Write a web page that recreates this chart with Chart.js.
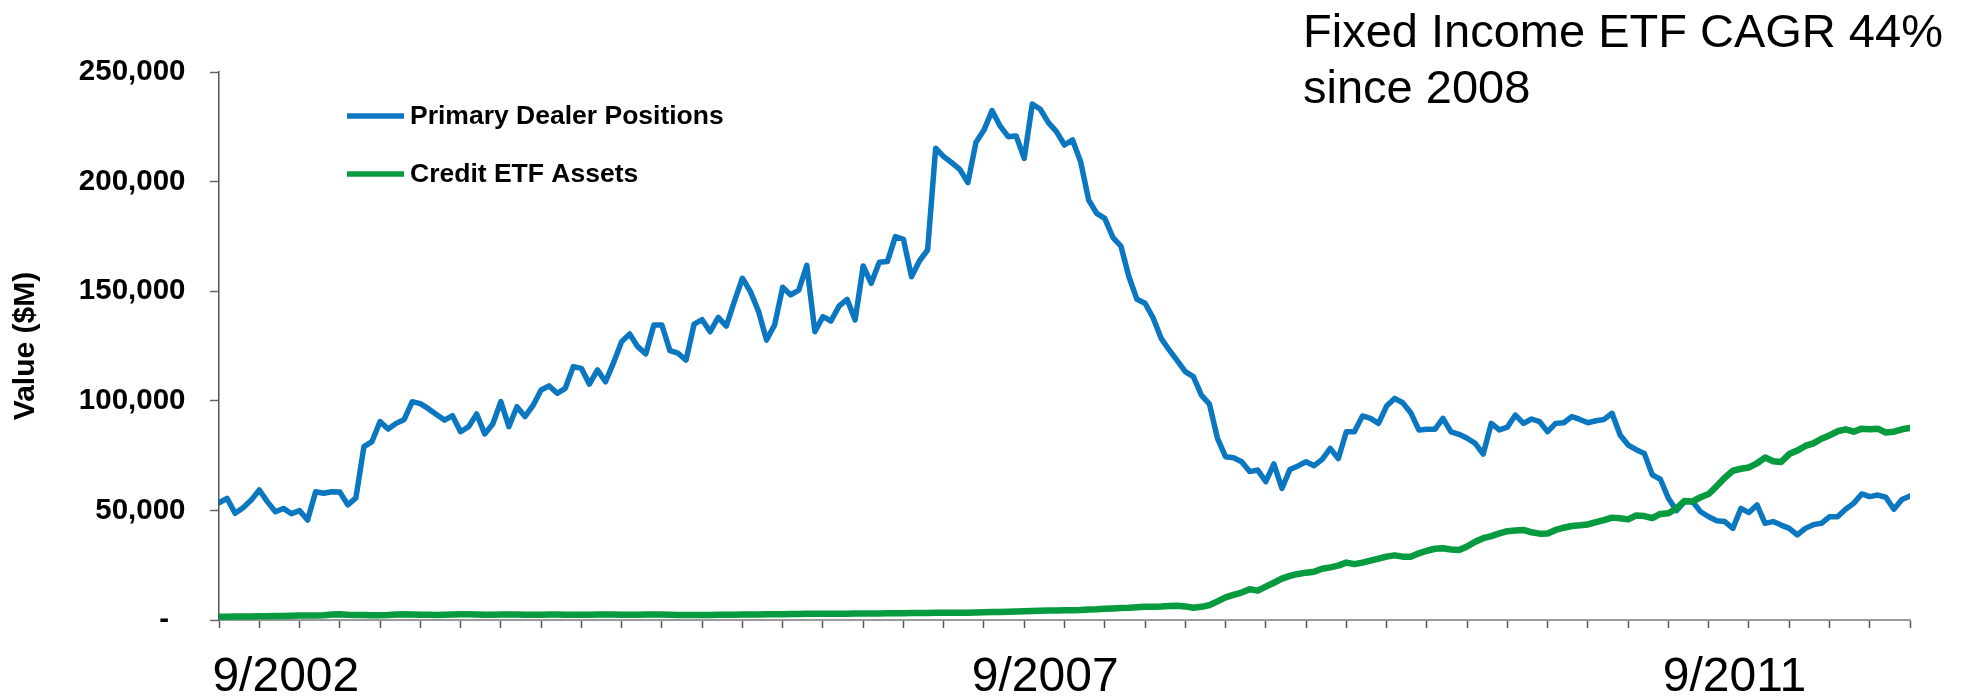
<!DOCTYPE html>
<html>
<head>
<meta charset="utf-8">
<script src="https://cdn.jsdelivr.net/npm/chart.js@4.4.1/dist/chart.umd.min.js"></script>
<style>
  html, body { margin: 0; padding: 0; background: #fff; overflow: hidden; }
  #wrap { width: 1979px; height: 698px; position: relative; }
</style>
</head>
<body>
<div id="wrap"><canvas id="chart"></canvas></div>
<script>
// Primary dealer corporate bond positions ($M), one value per sampling step
const dealerPositions = [
  53500, 55500, 48700, 51200, 54700, 59300, 54000, 49400, 50900, 48500,
  49900, 45600, 58500, 57800, 58500, 58400, 52500, 55700, 79100, 81400,
  90500, 87100, 89700, 91500, 99600, 98700, 96400, 93800, 91200, 93200,
  85900, 88200, 94000, 84900, 89400, 99600, 88200, 97300, 92800, 97900,
  104900, 106800, 103400, 105700, 115600, 114800, 107600, 114100, 108700, 117400,
  127000, 130500, 124700, 121400, 134600, 134600, 122900, 121700, 118600, 135000,
  137000, 131500, 138100, 134100, 145400, 155900, 149800, 140800, 127700, 134600,
  151800, 148300, 150500, 161800, 131500, 138400, 136400, 143200, 146300, 136900,
  161500, 153600, 163200, 163500, 174900, 173700, 156600, 163900, 168800, 215200,
  211400, 208600, 205600, 199500, 217800, 223500, 232400, 225400, 220500, 220800,
  210600, 235400, 233000, 226900, 222800, 216700, 219000, 209100, 191600, 185500,
  183200, 174600, 170600, 156600, 146300, 144500, 137900, 128500, 123200, 118300,
  113300, 111000, 102600, 98500, 82900, 74500, 74000, 72200, 67700, 68400,
  63100, 71200, 60000, 68700, 70300, 72200, 70400, 73300, 78300, 73600,
  85900, 85900, 93100, 92000, 89700, 97600, 101100, 99100, 94600, 86700,
  87000, 87000, 92000, 85800, 84700, 82900, 80600, 75700, 89700, 86700,
  88000, 93500, 89700, 91700, 90500, 85900, 89700, 90000, 92800, 91500,
  90000, 90900, 91500, 94300, 84400, 79800, 77700, 76000, 66200, 64200,
  55500, 49900, 54000, 54000, 49400, 47100, 45300, 44900, 41800, 50900,
  49000, 52500, 44100, 44900, 43300, 41800, 38800, 41800, 43500, 44100,
  47100, 47100, 50500, 53200, 57500, 56300, 57000, 56000, 50500, 55000,
  56600
];

// Credit ETF assets ($M), same sampling steps
const creditEtfAssets = [
  1500, 1500, 1600, 1600, 1600, 1700, 1700, 1800, 1800, 1900,
  2000, 2000, 2100, 2200, 2500, 2600, 2400, 2300, 2300, 2200,
  2200, 2300, 2500, 2600, 2500, 2400, 2400, 2300, 2400, 2500,
  2600, 2600, 2500, 2400, 2400, 2500, 2500, 2500, 2400, 2400,
  2400, 2500, 2500, 2400, 2400, 2400, 2400, 2500, 2500, 2500,
  2400, 2400, 2400, 2500, 2500, 2500, 2400, 2300, 2300, 2300,
  2300, 2300, 2400, 2400, 2400, 2500, 2500, 2500, 2600, 2600,
  2600, 2700, 2700, 2800, 2800, 2800, 2900, 2900, 2900, 3000,
  3000, 3000, 3000, 3100, 3100, 3100, 3200, 3200, 3200, 3300,
  3300, 3300, 3300, 3300, 3400, 3500, 3600, 3700, 3800, 3900,
  4000, 4100, 4200, 4300, 4300, 4400, 4500, 4600, 4800, 4900,
  5100, 5300, 5500, 5600, 5800, 6000, 6100, 6200, 6400, 6500,
  6200, 5600, 6000, 6800, 8500, 10300, 11500, 12500, 14000, 13400,
  15200, 17000, 18900, 20100, 21000, 21600, 22000, 23400, 24000, 24800,
  26200, 25500, 26200, 27100, 28000, 28900, 29500, 28900, 28900, 30400,
  31600, 32500, 32700, 32200, 31900, 33500, 35700, 37300, 38300, 39500,
  40500, 40800, 41100, 40000, 39400, 39500, 41100, 42100, 42900, 43200,
  43600, 44600, 45600, 46700, 46400, 45900, 47700, 47400, 46500, 48400,
  48700, 50900, 54300, 54100, 56000, 57500, 61100, 64900, 68100, 69000,
  69600, 71500, 74100, 72400, 72100, 75700, 77300, 79400, 80600, 82700,
  84200, 86100, 87000, 85900, 87300, 87000, 87300, 85500, 85900, 87000,
  87600
];

const seriesNames = ['Primary Dealer Positions', 'Credit ETF Assets'];
const seriesColors = ['#0B77C1', '#069B3E'];
const yTickValues = [0, 50000, 100000, 150000, 200000, 250000];
const stepsPerTick = 5;
const dateLabels = ['9/2002', '9/2007', '9/2011'];
const dateLabelSteps = [8.3, 102.6, 188.2];
const headlineLines = ['Fixed Income ETF CAGR 44%', 'since 2008'];

const FONT = "'Liberation Sans', Arial, Helvetica, sans-serif";
const lastStep = dealerPositions.length - 1;

const toPoints = arr => arr.map((v, i) => ({ x: i, y: v }));

// Legend drawn as a block inside the plot area
const insetLegend = {
  id: 'insetLegend',
  afterDraw(chart, args, opts) {
    const ctx = chart.ctx;
    ctx.save();
    ctx.font = `bold ${opts.fontSize}px ${FONT}`;
    ctx.textBaseline = 'middle';
    ctx.textAlign = 'left';
    seriesNames.forEach((name, k) => {
      const y = opts.y + k * opts.gap;
      ctx.strokeStyle = seriesColors[k];
      ctx.lineWidth = opts.lineWidth;
      ctx.lineCap = 'butt';
      ctx.beginPath();
      ctx.moveTo(opts.x, y);
      ctx.lineTo(opts.x + opts.lineLen, y);
      ctx.stroke();
      ctx.fillStyle = '#000';
      ctx.fillText(name, opts.x + opts.lineLen + opts.textGap, y + 1);
    });
    ctx.restore();
  }
};

// Two-line note in the top right corner
const headline = {
  id: 'headline',
  afterDraw(chart, args, opts) {
    const ctx = chart.ctx;
    ctx.save();
    ctx.font = `${opts.fontSize}px ${FONT}`;
    ctx.fillStyle = '#000';
    ctx.textAlign = 'left';
    ctx.textBaseline = 'alphabetic';
    headlineLines.forEach((line, k) => {
      ctx.fillText(line, opts.x, opts.y + k * opts.lineHeight);
    });
    ctx.restore();
  }
};

new Chart(document.getElementById('chart'), {
  type: 'line',
  data: {
    datasets: [
      {
        label: seriesNames[0],
        data: toPoints(dealerPositions),
        borderColor: seriesColors[0],
        borderWidth: 5.5,
        pointRadius: 0,
        tension: 0,
        borderJoinStyle: 'round',
        borderCapStyle: 'round',
        order: 1
      },
      {
        label: seriesNames[1],
        data: toPoints(creditEtfAssets),
        borderColor: seriesColors[1],
        borderWidth: 6.5,
        pointRadius: 0,
        tension: 0,
        borderJoinStyle: 'round',
        borderCapStyle: 'round',
        order: 0
      }
    ]
  },
  options: {
    responsive: true,
    maintainAspectRatio: false,
    devicePixelRatio: 1,
    animation: false,
    events: [],
    layout: { padding: { top: 72, right: 69, bottom: 0, left: 0 } },
    plugins: {
      legend: { display: false },
      tooltip: { enabled: false },
      insetLegend: { x: 347, y: 116, gap: 58, lineLen: 57, textGap: 6, lineWidth: 5.5, fontSize: 26.5 },
      headline: { x: 1303, y: 47, lineHeight: 56, fontSize: 47 }
    },
    scales: {
      x: {
        type: 'linear',
        position: 'bottom',
        weight: 0,
        min: 0,
        max: lastStep,
        afterBuildTicks(scale) {
          const t = [];
          for (let v = 0; v <= lastStep; v += stepsPerTick) t.push({ value: v });
          scale.ticks = t;
        },
        afterFit(scale) { scale.height = 8; },
        ticks: { display: false },
        grid: {
          drawOnChartArea: false,
          drawTicks: true,
          tickLength: 8,
          tickColor: '#555',
          tickWidth: 1.5
        },
        border: { display: true, color: '#9a9a9a', width: 2 }
      },
      dates: {
        type: 'linear',
        position: 'bottom',
        weight: 1,
        min: 0,
        max: lastStep,
        afterBuildTicks(scale) {
          scale.ticks = dateLabelSteps.map(v => ({ value: v }));
        },
        afterFit(scale) { scale.height = 70; },
        grid: { display: false, drawTicks: false },
        border: { display: false },
        ticks: {
          autoSkip: false,
          maxRotation: 0,
          padding: 20.5,
          color: '#000',
          font: { family: FONT, size: 48 },
          callback: (value, index) => dateLabels[index]
        }
      },
      y: {
        type: 'linear',
        min: 0,
        max: 250000,
        afterBuildTicks(scale) {
          scale.ticks = yTickValues.map(v => ({ value: v }));
        },
        afterFit(scale) { scale.width = 219; },
        ticks: {
          padding: 24.5,
          color: '#000',
          font: { family: FONT, size: 29.5, weight: 'bold' },
          callback: v => (v === 0 ? '-  ' : v.toLocaleString('en-US'))
        },
        grid: {
          drawOnChartArea: false,
          drawTicks: true,
          tickLength: 9,
          tickColor: '#666',
          tickWidth: 1.5
        },
        border: { display: true, color: '#555', width: 1.5 },
        title: {
          display: true,
          text: 'Value ($M)',
          color: '#000',
          padding: { top: 8, bottom: 0 },
          font: { family: FONT, size: 30, weight: 'bold' }
        }
      }
    }
  },
  plugins: [insetLegend, headline]
});
</script>
</body>
</html>
